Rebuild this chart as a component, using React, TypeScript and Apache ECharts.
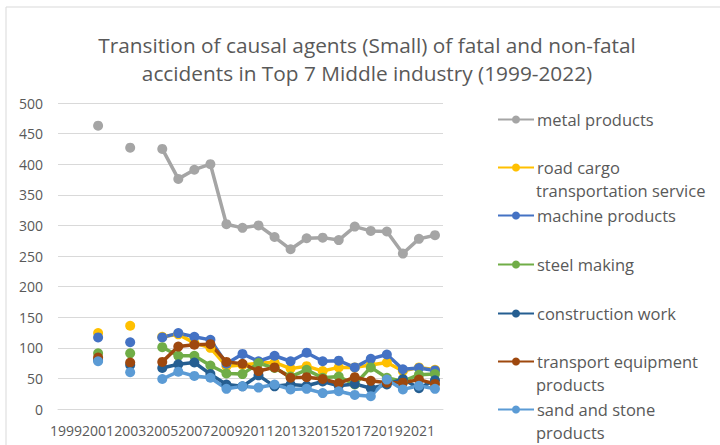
import React, { useEffect, useRef } from "react";
import * as echarts from "echarts";

const years = ["1999","2000","2001","2002","2003","2004","2005","2006","2007","2008","2009","2010","2011","2012","2013","2014","2015","2016","2017","2018","2019","2020","2021","2022"];

const metalProducts = [null,null,463,null,427,null,425,376,391,400,302,296,300,281,261,279,280,276,298,291,290,254,278,284];
const roadCargo = [null,null,124,null,136,null,118,122,108,100,70,72,75,76,66,70,62,68,68,72,76,62,68,64];
const machineProducts = [null,null,117,null,109,null,117,124,118,113,74,90,78,87,78,92,78,79,68,82,89,65,67,63];
const steelMaking = [null,null,91,null,91,null,101,87,87,71,58,57,75,67,53,64,51,53,40,68,51,45,56,57];
const constructionWork = [null,null,80,null,72,null,67,73,76,57,40,37,55,37,40,38,45,38,41,34,40,49,34,47];
const transportEquipment = [null,null,84,null,76,null,77,102,105,106,77,74,62,68,51,52,49,42,52,46,43,43,48,41];
const sandStone = [null,null,78,null,60,null,49,61,54,51,33,37,35,40,32,33,26,29,23,21,48,32,38,33];

const seriesNames = ["metal products","road cargo transportation service","machine products","steel making","construction work","transport equipment products","sand and stone products"];
const seriesData = [metalProducts, roadCargo, machineProducts, steelMaking, constructionWork, transportEquipment, sandStone];
const colors = ["#A5A5A5","#FFC000","#4472C4","#70AD47","#255E91","#9E480E","#5B9BD5"];
const legendFirst = ["metal products","road cargo","machine products","steel making","construction work","transport equipment","sand and stone"];
const legendSecond = ["","transportation service","","","","products","products"];

const FONT = "Open Sans";
const TXT = "#595959";

export default function App() {
  const ref = useRef<HTMLDivElement>(null);
  useEffect(() => {
    if (!ref.current) return;
    const chart = echarts.init(ref.current, null, { renderer: "svg" });
    const legendTops = [120, 168, 216, 265, 314, 362, 410];
    const legends = seriesNames.map((n, i) => ({
      data: [n],
      orient: "vertical",
      left: 497,
      top: legendTops[i] - 9,
      padding: 0,
      itemWidth: 36,
      itemHeight: 10,
      itemGap: 0,
      selectedMode: false,
      formatter: () => legendFirst[i],
      textStyle: { color: TXT, fontSize: 16.5, fontFamily: FONT, padding: [0, 0, 0, -2] },
    }));
    const secondLines = legendSecond
      .map((t, i) => ({ t, i }))
      .filter((o) => o.t)
      .map((o) => ({
        type: "text",
        left: 536,
        top: legendTops[o.i] + 14,
        style: { text: o.t, fill: TXT, font: `16.5px "${FONT}"` },
      }));
    chart.setOption({
      animation: false,
      color: colors,
      title: {
        text: "Transition of causal agents (Small) of fatal and non-fatal\naccidents in Top 7 Middle industry (1999-2022)",
        left: 362,
        textAlign: "center",
        top: 26,
        textStyle: { color: TXT, fontSize: 20.8, fontWeight: "normal", fontFamily: FONT, lineHeight: 28 },
      },
      legend: legends,
      grid: { left: 58, right: 277, top: 103, bottom: 36 },
      xAxis: {
        type: "category",
        data: years,
        boundaryGap: true,
        axisLine: { lineStyle: { color: "#d9d9d9" } },
        axisTick: { show: false },
        axisLabel: { interval: 1, color: TXT, fontSize: 14, fontFamily: FONT, margin: 14 },
      },
      yAxis: {
        type: "value",
        min: 0,
        max: 500,
        interval: 50,
        axisLine: { show: false },
        axisTick: { show: false },
        splitLine: { lineStyle: { color: "#d9d9d9", width: 1 } },
        axisLabel: { color: TXT, fontSize: 14, fontFamily: FONT, margin: 15 },
      },
      series: seriesNames.map((n, i) => ({
        name: n,
        type: "line",
        data: seriesData[i],
        symbol: "circle",
        symbolSize: 10,
        showSymbol: true,
        connectNulls: false,
        lineStyle: { width: 3.5, color: colors[i] },
        itemStyle: { color: colors[i] },
      })),
      graphic: [
        {
          type: "rect",
          shape: { x: 6, y: 7, width: 730, height: 460 },
          style: { fill: "none", stroke: "#d9d9d9", lineWidth: 1 },
          silent: true,
        },
        ...secondLines,
      ],
    });
    return () => chart.dispose();
  }, []);
  return (
    <div
      ref={ref}
      style={{ position: "fixed", left: 0, top: 0, width: 720, height: 445, background: "#fff" }}
    />
  );
}
